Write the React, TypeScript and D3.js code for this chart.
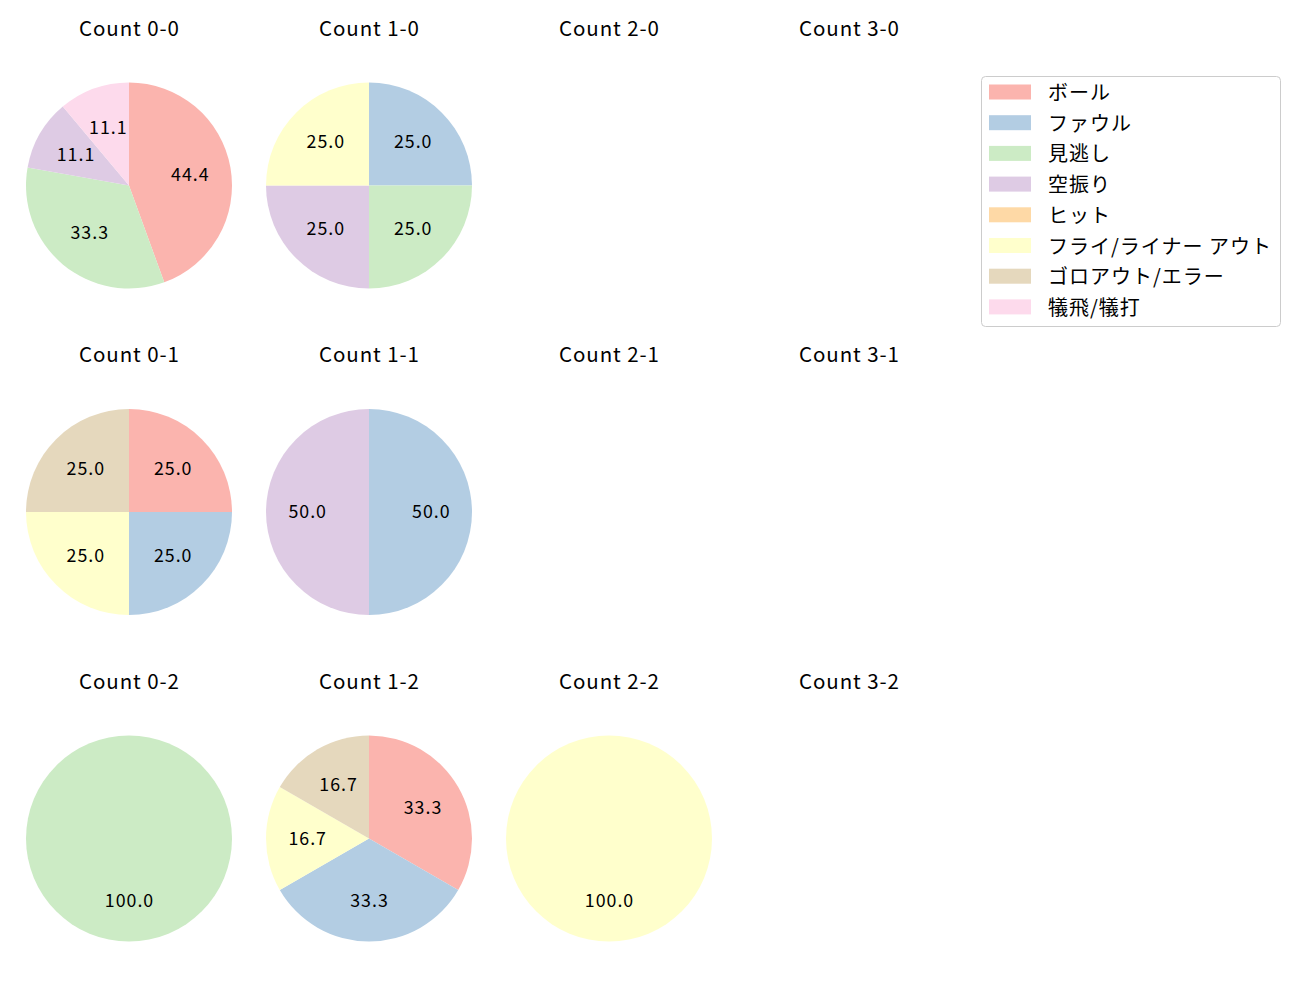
import React from "react";
import * as d3 from "d3";

const categories = ["ボール", "ファウル", "見逃し", "空振り", "ヒット", "フライ/ライナー アウト", "ゴロアウト/エラー", "犠飛/犠打"];
const colors = ["#fbb4ae", "#b3cde3", "#ccebc5", "#decbe4", "#fed9a6", "#ffffcc", "#e5d8bd", "#fddaec"];

const balls = [0, 1, 2, 3];
const strikes = [0, 1, 2];

// counts per category, order as in categories
const count00 = [4, 0, 3, 1, 0, 0, 0, 1];
const count10 = [0, 1, 1, 1, 0, 1, 0, 0];
const count20 = [0, 0, 0, 0, 0, 0, 0, 0];
const count30 = [0, 0, 0, 0, 0, 0, 0, 0];
const count01 = [1, 1, 0, 0, 0, 1, 1, 0];
const count11 = [0, 1, 0, 1, 0, 0, 0, 0];
const count21 = [0, 0, 0, 0, 0, 0, 0, 0];
const count31 = [0, 0, 0, 0, 0, 0, 0, 0];
const count02 = [0, 0, 1, 0, 0, 0, 0, 0];
const count12 = [2, 2, 0, 0, 0, 1, 1, 0];
const count22 = [0, 0, 0, 0, 0, 1, 0, 0];
const count32 = [0, 0, 0, 0, 0, 0, 0, 0];

const grid = [
  [count00, count10, count20, count30],
  [count01, count11, count21, count31],
  [count02, count12, count22, count32],
];

const FONT = "'Noto Sans CJK JP', 'Noto Sans', sans-serif";

export default function App() {
  const R = 103;
  const colX = d3.scaleLinear().domain([0, 1]).range([129, 369]);
  const rowY = d3.scaleLinear().domain([0, 1]).range([185.5, 512]);
  const pie = d3.pie<{ v: number; i: number }>().sort(null).value((d) => d.v).startAngle(0).endAngle(2 * Math.PI);
  const arc = d3.arc<any>().innerRadius(0).outerRadius(R);
  const labelArc = d3.arc<any>().innerRadius(R * 0.6).outerRadius(R * 0.6);

  return (
    <svg width={1300} height={1000} style={{ position: "absolute", left: 0, top: 0, background: "#fff" }} fontFamily={FONT}>
      <rect width={1300} height={1000} fill="#fff" />
      {strikes.map((s) =>
        balls.map((b) => {
          const cx = colX(b);
          const cy = rowY(s);
          const vals = grid[s][b];
          const total = d3.sum(vals);
          const data = vals.map((v, i) => ({ v, i })).filter((d) => d.v > 0);
          const arcs = pie(data);
          return (
            <g key={`${b}-${s}`}>
              <text x={cx + 0.45} y={cy - 150} textAnchor="middle" fontSize={20.5} letterSpacing={0.9} fill="#000">{`Count ${b}-${s}`}</text>
              {total > 0 && (
                <g transform={`translate(${cx},${cy})`}>
                  {arcs.map((a, k) => (
                    <path key={k} d={arc(a) as string} fill={colors[a.data.i]} />
                  ))}
                  {arcs.map((a, k) => {
                    const [lx, ly] = labelArc.centroid(a);
                    return (
                      <text key={k} x={lx + 0.5} y={ly - 1.8} textAnchor="middle" dominantBaseline="central" fontSize={17.8} letterSpacing={1} fill="#000">
                        {((a.data.v / total) * 100).toFixed(1)}
                      </text>
                    );
                  })}
                </g>
              )}
            </g>
          );
        })
      )}
      <g>
        <rect x={981.5} y={76.5} width={299} height={250} rx={4} fill="#fff" stroke="#cccccc" strokeWidth={1} />
        {categories.map((c, i) => {
          const y = 92 + i * 30.7;
          return (
            <g key={c}>
              <rect x={989} y={y - 7.5} width={42} height={15} fill={colors[i]} />
              <text x={1048} y={y - 0.5} dominantBaseline="central" fontSize={20} letterSpacing={1} fill="#000">{c}</text>
            </g>
          );
        })}
      </g>
    </svg>
  );
}
